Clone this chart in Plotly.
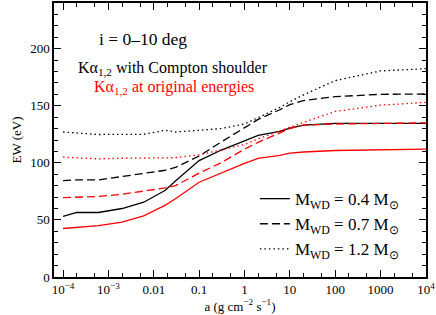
import plotly.graph_objects as go

a_vals = [1e-4, 2e-4, 6e-4, 2e-3, 6e-3, 0.018, 0.03, 0.1, 0.3, 1, 2, 6, 10, 20, 100, 1000, 1e4]

ew_04_compton = [53, 56.5, 56.5, 60, 65.5, 76, 84, 102, 111, 119.5, 124, 127.5, 130.5, 133, 134.5, 134.5, 134.5]
ew_07_compton = [84.5, 85, 85, 88, 90.5, 93.5, 96, 106, 118, 131, 138, 146.5, 151, 154.5, 158, 160, 160.3]
ew_12_compton = [127, 126, 124.8, 125, 125, 128.5, 127, 128.5, 130, 134, 139.5, 148.5, 153.5, 159.5, 172, 180.5, 182.5]

ew_04_orig = [42.5, 43.5, 45, 48, 53.5, 63, 68.5, 83, 91, 99.5, 104, 106.5, 108.5, 109.5, 110.8, 111.5, 112]
ew_07_orig = [69.5, 70, 70.5, 72.5, 75, 78, 80, 91, 100, 112, 118, 126, 130, 133, 134, 134.5, 135]
ew_12_orig = [105, 104.5, 103.5, 104, 104, 104.3, 104.5, 107, 111, 116, 121, 128, 131, 135.5, 145, 150.5, 153]

legend_names = ["M<sub>WD</sub> = 0.4 M<sub>⊙</sub>",
                "M<sub>WD</sub> = 0.7 M<sub>⊙</sub>",
                "M<sub>WD</sub> = 1.2 M<sub>⊙</sub>"]

x_tickvals = [1e-4, 1e-3, 0.01, 0.1, 1, 10, 100, 1000, 1e4]
x_ticktext = ["10<sup>−4</sup>", "10<sup>−3</sup>", "0.01", "0.1", "1", "10", "100", "1000", "10<sup>4</sup>"]
y_tickvals = [0, 50, 100, 150, 200]

dashes = ["solid", "8px,4px", "1.5px,3px"]
black_sets = [ew_04_compton, ew_07_compton, ew_12_compton]
red_sets = [ew_04_orig, ew_07_orig, ew_12_orig]

fig = go.Figure()
for ys, d, name in zip(black_sets, dashes, legend_names):
    fig.add_trace(go.Scatter(x=a_vals, y=ys, mode="lines", name=name,
                             line=dict(color="black", width=1.3, dash=d)))
for ys, d in zip(red_sets, dashes):
    fig.add_trace(go.Scatter(x=a_vals, y=ys, mode="lines", showlegend=False,
                             line=dict(color="#ff0000", width=1.3, dash=d)))

font_family = "Liberation Serif, Times New Roman, serif"

axis_common = dict(showline=True, linecolor="black", linewidth=1.5, mirror="ticks",
                   ticks="inside", ticklen=7, tickwidth=1, tickcolor="black",
                   showgrid=False, zeroline=False, ticklabeloverflow="allow",
                   tickfont=dict(family=font_family, size=13, color="black"))

fig.update_xaxes(type="log", range=[-4.2, 4.002], tickvals=x_tickvals, ticktext=x_ticktext,
                 minor=dict(ticks="inside", ticklen=4, tickcolor="black", showgrid=False),
                 title=dict(text="a (g cm<sup>−2</sup> s<sup>−1</sup>)", standoff=4,
                            font=dict(family=font_family, size=13, color="black")),
                 **axis_common)
fig.update_yaxes(range=[0, 240], tickvals=y_tickvals,
                 minor=dict(ticks="inside", ticklen=4, tickcolor="black", dtick=10, showgrid=False),
                 title=dict(text="EW (eV)", standoff=6,
                            font=dict(family=font_family, size=13, color="black")),
                 **axis_common)

fig.add_annotation(x=0.115, y=0.868, xref="paper", yref="paper", xanchor="left", yanchor="middle",
                   text="i = 0–10 deg", showarrow=False,
                   font=dict(family=font_family, size=17.5, color="black"))
fig.add_annotation(x=0.06, y=0.762, xref="paper", yref="paper", xanchor="left", yanchor="middle",
                   text="Kα<sub>1,2</sub> with Compton shoulder", showarrow=False,
                   font=dict(family=font_family, size=16, color="black"))
fig.add_annotation(x=0.103, y=0.69, xref="paper", yref="paper", xanchor="left", yanchor="middle",
                   text="Kα<sub>1,2</sub> at original energies", showarrow=False,
                   font=dict(family=font_family, size=16, color="#ff0000"))

fig.update_layout(
    width=436, height=315,
    margin=dict(l=54, r=9, t=1, b=38),
    paper_bgcolor="white", plot_bgcolor="white",
    font=dict(family=font_family, color="black"),
    legend=dict(x=0.54, y=0.35, xanchor="left", yanchor="top",
                bgcolor="rgba(0,0,0,0)", borderwidth=0,
                font=dict(family=font_family, size=17, color="black"),
                tracegroupgap=0, itemwidth=30),
)

fig.write_html(
    "out.html",
    config={"displayModeBar": False},
    post_script=("document.documentElement.style.overflow='hidden';"
                 "document.body.style.margin='0';document.body.style.overflow='hidden';"),
)
